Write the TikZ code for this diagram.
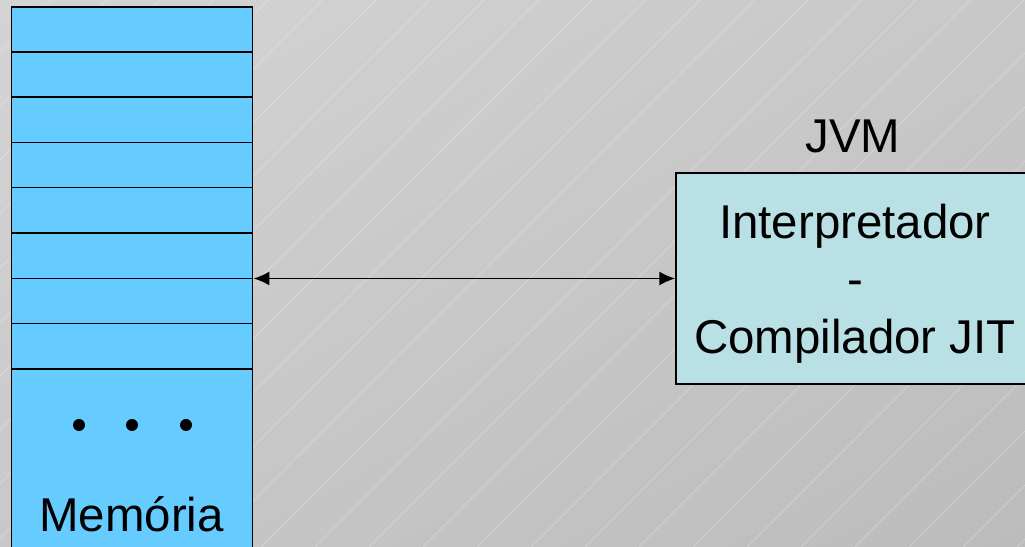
\documentclass[tikz,border=0pt]{standalone}
\usepackage{fontspec}
\setmainfont{Liberation Sans}
\usepackage{tikz}
\usetikzlibrary{arrows.meta,shadings}
\usepackage{xcolor}
\definecolor{memblue}{RGB}{102,204,255}
\definecolor{jvmcyan}{RGB}{185,224,228}
\definecolor{bglight}{RGB}{212,212,212}
\definecolor{bgmid}{RGB}{200,200,200}
\definecolor{bgdark}{RGB}{188,188,188}
\newcommand{\bigtext}{\fontsize{27}{32.6}\selectfont}

\begin{document}
\begin{tikzpicture}[x=0.02cm,y=0.02cm,
    box/.style={draw=black,line width=0.85pt},
    link/.style={{Latex[length=0.32cm,width=0.28cm]}-{Latex[length=0.32cm,width=0.28cm]},line width=1pt}]
        \useasboundingbox (0,0) rectangle (1025,547);
        \clip (0,0) rectangle (1025,547);
        % Background
        \shade[upper left=bglight,upper right=bgmid,lower left=bgmid,lower right=bgdark]
          (0,0) rectangle (1025,547);
        \foreach \x in {-110,-56,...,1600}{
          \draw[white,opacity=0.35,line width=0.3pt] (\x,547)--(\x-547,0);
        }
        % Memory column
        \node[box,fill=memblue,anchor=north west,inner sep=0pt,
          minimum width=4.82cm,minimum height=11.1cm] (mem) at (11,540.5){};
        \foreach \k in {1,...,8}{
          \draw[line width=0.85pt] (11,540.5-45.3*\k)--(252,540.5-45.3*\k);
        }
        \foreach \x in {79,132,186}{
          \fill (\x,122) circle (6);
        }
        \node[anchor=base,font=\bigtext,inner sep=0pt] (memlabel) at (131.5,15){Memória};
        % JVM box
        \node[box,fill=jvmcyan,inner sep=0pt,
          minimum width=7.16cm,minimum height=4.22cm] (jvm) at (855,268.5){};
        \node[align=center,font=\bigtext,inner sep=0pt,yshift=-0.1cm] (jvmtext) at (jvm.center)
          {Interpretador\\-\\Compilador JIT};
        \node[anchor=base,font=\bigtext,inner sep=0pt] (jvmlabel) at (853,394){JVM};
        % Link
        \draw[link] (mem.east |- jvm.west)--(jvm.west);
\end{tikzpicture}
\end{document}
